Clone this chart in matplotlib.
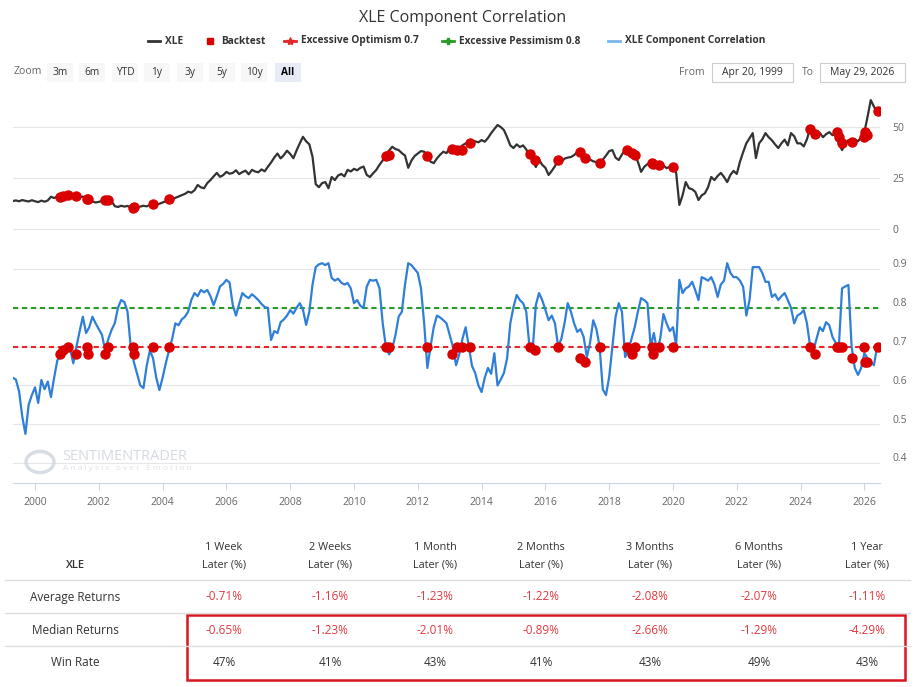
import numpy as np
import matplotlib
matplotlib.use("Agg")
import matplotlib.pyplot as plt
from matplotlib.lines import Line2D
from matplotlib.patches import Rectangle, Circle
from matplotlib.transforms import ScaledTranslation

plt.rcParams["font.family"] = ["Open Sans", "DejaVu Sans"]

W, H = 915, 687

# XLE price, one value every 0.1 year starting 1999.3
xle_price = [
    13.7, 14.0, 13.6, 14.2, 13.8, 13.5, 14.1,
    13.6, 13.2, 13.9, 13.4, 14.0, 15.8, 15.2, 15.9, 16.3, 15.8,
    16.7, 16.2, 16.8, 16.0, 15.5, 15.9, 14.7, 14.2, 13.5, 13.0,
    13.3, 13.8, 14.3, 14.1, 13.6, 11.2, 10.8, 11.4, 11.0, 11.3,
    10.5, 10.9, 10.6, 11.0, 11.4, 11.1, 11.8, 12.2, 11.9, 12.4,
    13.0, 13.6, 14.7, 14.4, 15.3, 15.9, 16.6, 17.2, 18.3, 17.8,
    19.0, 21.6, 20.4, 20.0, 22.5, 24.0, 25.8, 27.5, 25.6, 26.4,
    28.0, 27.1, 27.5, 28.8, 26.9, 27.9, 28.6, 26.8, 29.0, 28.2,
    27.8, 29.2, 28.3, 30.5, 32.6, 35.0, 37.0, 34.6, 36.2, 38.4,
    36.8, 34.7, 38.5, 42.0, 45.2, 43.0, 41.5, 35.4, 22.0, 20.5,
    22.5, 23.0, 20.0, 25.5, 24.0, 26.2, 27.0, 25.8, 29.0, 28.2,
    29.5, 28.8, 30.0, 30.6, 26.5, 25.5, 27.3, 29.0, 31.5, 33.6,
    36.3, 38.5, 40.3, 39.2, 38.7, 37.2, 36.0, 30.0, 33.5, 35.8,
    37.0, 38.2, 37.9, 35.8, 33.0, 32.3, 34.6, 36.4, 37.9, 37.2,
    39.7, 39.2, 38.7, 39.8, 41.0, 42.0, 41.5, 42.8, 43.0, 42.5,
    43.6, 42.8, 44.6, 47.0, 49.0, 51.0, 50.0, 48.5, 45.0, 41.0,
    39.7, 41.5, 40.2, 41.0, 39.0, 36.5, 33.8, 30.4, 34.0, 31.5,
    30.0, 26.5, 28.5, 30.8, 33.8, 32.9, 34.5, 35.0, 35.3, 36.2,
    37.7, 36.5, 34.8, 35.5, 34.0, 33.2, 32.8, 32.0, 34.0, 36.0,
    38.2, 38.7, 35.0, 33.8, 36.5, 38.7, 37.5, 36.8, 36.3, 33.0,
    28.0, 30.5, 31.8, 32.8, 32.0, 31.4, 30.5, 31.2, 29.8, 30.6,
    30.4, 27.5, 11.8, 16.5, 23.0, 20.0, 19.5, 18.2, 14.2, 16.5,
    17.5, 20.5, 25.5, 24.0, 26.0, 27.5, 25.5, 23.0, 26.5, 28.5,
    27.0, 33.0, 37.7, 42.0, 44.5, 47.0, 34.8, 42.0, 44.0, 47.0,
    45.0, 43.5, 41.5, 39.7, 42.0, 43.8, 41.0, 47.0, 45.5, 42.0,
    42.0, 40.5, 44.0, 49.5, 47.5, 46.0, 47.2, 45.0, 46.5, 47.5,
    46.0, 47.0, 42.0, 38.7, 41.5, 43.6, 42.5, 44.0, 43.0, 45.0,
    47.5, 55.0, 63.2, 60.0, 57.4,
]

# XLE component correlation, same dates
corr = [
    0.620, 0.615, 0.585, 0.520, 0.475, 0.550, 0.575,
    0.595, 0.555, 0.614, 0.590, 0.610, 0.570, 0.620, 0.665, 0.675, 0.690,
    0.700, 0.695, 0.657, 0.700, 0.740, 0.777, 0.735, 0.750, 0.777, 0.760,
    0.745, 0.730, 0.690, 0.720, 0.743, 0.760, 0.800, 0.820, 0.815, 0.790,
    0.700, 0.660, 0.630, 0.600, 0.593, 0.650, 0.690, 0.670, 0.620, 0.588,
    0.620, 0.657, 0.690, 0.720, 0.760, 0.755, 0.770, 0.777, 0.790, 0.820,
    0.838, 0.830, 0.846, 0.840, 0.846, 0.830, 0.807, 0.830, 0.855, 0.862,
    0.872, 0.865, 0.807, 0.780, 0.810, 0.838, 0.830, 0.825, 0.835, 0.828,
    0.820, 0.810, 0.802, 0.800, 0.717, 0.740, 0.735, 0.763, 0.770, 0.780,
    0.794, 0.785, 0.800, 0.812, 0.795, 0.756, 0.790, 0.860, 0.905, 0.912,
    0.915, 0.910, 0.915, 0.877, 0.870, 0.875, 0.865, 0.860, 0.864, 0.850,
    0.812, 0.820, 0.805, 0.800, 0.855, 0.872, 0.870, 0.872, 0.850, 0.760,
    0.700, 0.680, 0.695, 0.730, 0.777, 0.790, 0.860, 0.915, 0.910, 0.900,
    0.890, 0.850, 0.760, 0.645, 0.700, 0.750, 0.780, 0.775, 0.768, 0.760,
    0.730, 0.700, 0.652, 0.680, 0.720, 0.750, 0.700, 0.650, 0.632, 0.600,
    0.583, 0.620, 0.645, 0.630, 0.683, 0.600, 0.615, 0.632, 0.670, 0.760,
    0.802, 0.833, 0.820, 0.812, 0.790, 0.700, 0.690, 0.807, 0.838, 0.820,
    0.795, 0.768, 0.780, 0.760, 0.700, 0.720, 0.760, 0.812, 0.790, 0.760,
    0.738, 0.745, 0.725, 0.673, 0.710, 0.768, 0.745, 0.700, 0.590, 0.575,
    0.622, 0.700, 0.777, 0.812, 0.790, 0.673, 0.690, 0.720, 0.750, 0.790,
    0.825, 0.820, 0.812, 0.700, 0.735, 0.690, 0.720, 0.784, 0.760, 0.740,
    0.750, 0.704, 0.872, 0.838, 0.850, 0.855, 0.867, 0.845, 0.820, 0.879,
    0.875, 0.870, 0.879, 0.860, 0.828, 0.860, 0.870, 0.915, 0.890, 0.879,
    0.879, 0.870, 0.854, 0.780, 0.820, 0.905, 0.905, 0.905, 0.890, 0.867,
    0.867, 0.828, 0.835, 0.820, 0.830, 0.838, 0.820, 0.800, 0.760, 0.780,
    0.785, 0.794, 0.760, 0.700, 0.690, 0.720, 0.750, 0.740, 0.763, 0.755,
    0.725, 0.710, 0.700, 0.850, 0.855, 0.859, 0.700, 0.645, 0.627, 0.645,
    0.683, 0.670, 0.660, 0.652, 0.700,
]

years = 1999.3 + 0.1 * np.arange(len(xle_price))

# backtest signals
bt_dates = [2000.78, 2000.89, 2001.04, 2001.3, 2001.64, 2001.66, 2002.19, 2002.3,
            2003.08, 2003.1, 2003.69, 2004.21, 2011.0, 2011.1, 2012.28, 2013.06,
            2013.22, 2013.38, 2013.64, 2015.52, 2015.67, 2016.4, 2017.08, 2017.24,
            2017.71, 2018.55, 2018.7, 2018.81, 2019.33, 2019.38, 2019.56, 2020.01,
            2024.3, 2024.45, 2025.13, 2025.2, 2025.29, 2025.6, 2026.0, 2026.03,
            2026.07, 2026.42]
bt_corr = [0.68, 0.69, 0.70, 0.68, 0.70, 0.68, 0.68, 0.70, 0.70, 0.68, 0.70, 0.70,
           0.70, 0.70, 0.70, 0.68, 0.70, 0.70, 0.70, 0.70, 0.69, 0.70, 0.67, 0.66,
           0.70, 0.70, 0.68, 0.70, 0.70, 0.68, 0.70, 0.70, 0.70, 0.68, 0.70, 0.70,
           0.70, 0.67, 0.70, 0.66, 0.66, 0.70]
bt_price = [15.9, 16.3, 16.5, 16.0, 14.7, 14.5, 14.2, 14.3, 10.5, 10.6, 12.2, 14.7,
            35.8, 36.5, 35.8, 39.2, 38.8, 38.5, 42.0, 37.0, 34.0, 33.8, 37.7, 34.8,
            32.6, 38.7, 37.5, 36.3, 32.5, 32.0, 31.4, 30.4, 49.0, 46.5, 47.5, 45.0,
            42.0, 42.6, 45.0, 47.5, 46.0, 57.8]

optimism_level = 0.7
pessimism_level = 0.8

# table
horizons = ["1 Week", "2 Weeks", "1 Month", "2 Months", "3 Months", "6 Months", "1 Year"]
avg_returns = ["-0.71%", "-1.16%", "-1.23%", "-1.22%", "-2.08%", "-2.07%", "-1.11%"]
median_returns = ["-0.65%", "-1.23%", "-2.01%", "-0.89%", "-2.66%", "-1.29%", "-4.29%"]
win_rate = ["47%", "41%", "43%", "41%", "43%", "49%", "43%"]

zoom_buttons = ["3m", "6m", "YTD", "1y", "3y", "5y", "10y", "All"]

RED = "#d90000"
BLUE = "#2f7ed8"
GREEN = "#2a9a2a"
GRID = "#e6e6e6"
TXT = "#666666"


def fx(x):
    return x / W


def fy(y):
    return 1 - y / H


fig = plt.figure(figsize=(W / 100, H / 100), dpi=100)

# title and legend
fig.text(fx(463), fy(18), "XLE Component Correlation", ha="center", va="center",
         fontsize=11.5, color="#333333")

legend_items = [
    (148, "XLE", "#333333", "line"),
    (205, "Backtest", RED, "square"),
    (284, "Excessive Optimism 0.7", "#e5262b", "star"),
    (442, "Excessive Pessimism 0.8", GREEN, "plus"),
    (608, "XLE Component Correlation", "#7cb5ec", "line"),
]
for x0, label, col, kind in legend_items:
    if kind == "square":
        fig.add_artist(Line2D([fx(x0 + 5)], [fy(41)], marker="s", markersize=5,
                              color=col, linestyle="none"))
        tx = x0 + 16
    else:
        fig.add_artist(Line2D([fx(x0), fx(x0 + 12)], [fy(41), fy(41)], color=col, lw=2))
        if kind == "star":
            fig.add_artist(Line2D([fx(x0 + 6)], [fy(41)], marker="*", markersize=6,
                                  color=col, linestyle="none"))
        elif kind == "plus":
            fig.add_artist(Line2D([fx(x0 + 6)], [fy(41)], marker="P", markersize=5,
                                  color=col, linestyle="none"))
        tx = x0 + 17
    fig.text(fx(tx), fy(41), label, ha="left", va="center", fontsize=7.3,
             fontweight="bold", color="#333333")

# zoom toolbar
fig.text(fx(28), fy(72), "Zoom", ha="center", va="center", fontsize=7.5, color=TXT)
btn_x = [60, 92, 125, 157, 190, 222, 254, 288]
for bx, lab in zip(btn_x, zoom_buttons):
    active = lab == "All"
    fig.add_artist(Rectangle((fx(bx - 13), fy(82)), 26 / W, 19 / H,
                             facecolor="#e6ebf5" if active else "#f7f7f7",
                             edgecolor="none"))
    fig.text(fx(bx), fy(72.5), lab, ha="center", va="center", fontsize=7.3,
             color="#000000" if active else "#333333",
             fontweight="bold" if active else "normal")

fig.text(fx(692), fy(72.5), "From", ha="center", va="center", fontsize=7.5, color=TXT)
fig.add_artist(Rectangle((fx(712), fy(82)), 81 / W, 19 / H, facecolor="white",
                         edgecolor="#cccccc", lw=0.8))
fig.text(fx(752), fy(72.5), "Apr 20, 1999", ha="center", va="center", fontsize=7.5,
         color="#333333")
fig.text(fx(808), fy(72.5), "To", ha="center", va="center", fontsize=7.5, color=TXT)
fig.add_artist(Rectangle((fx(820), fy(82)), 85 / W, 19 / H, facecolor="white",
                         edgecolor="#cccccc", lw=0.8))
fig.text(fx(862), fy(72.5), "May 29, 2026", ha="center", va="center", fontsize=7.5,
         color="#333333")

# price panel
ax1 = fig.add_axes([fx(13), fy(233), 867 / W, 138 / H])
ax1.plot(years, xle_price, color="#333333", lw=1.6, zorder=2)
ax1.plot(bt_dates, bt_price, "o", color=RED, markersize=6.5, zorder=3)
ax1.set_ylim(-1.96, 65.7)
ax1.set_yticks([0, 25, 50])

# correlation panel
ax2 = fig.add_axes([fx(13), fy(483), 867 / W, 233 / H])
ax2.plot(years, corr, color=BLUE, lw=1.6, zorder=2)
ax2.axhline(pessimism_level, color=GREEN, lw=1.5, dashes=(2.5, 1.8), zorder=1.5)
ax2.axhline(optimism_level, color="#e5262b", lw=1.5, dashes=(2.5, 1.8), zorder=1.5)
ax2.plot(bt_dates, bt_corr, "o", color=RED, markersize=6.5, zorder=3)
ax2.set_ylim(0.3485, 0.949)
ax2.set_yticks([0.4, 0.5, 0.6, 0.7, 0.8, 0.9])
ax2.set_yticklabels(["0.4", "0.5", "0.6", "0.7", "0.8", "0.9"])

for ax in (ax1, ax2):
    ax.set_xlim(1999.31, 2026.49)
    ax.yaxis.tick_right()
    ax.tick_params(axis="y", length=0, pad=9, labelsize=7.5, labelcolor=TXT)
    ax.grid(axis="y", color=GRID, lw=0.8, zorder=0)
    ax.set_axisbelow(True)
    for side in ("top", "left", "right", "bottom"):
        ax.spines[side].set_visible(False)
    ax.set_facecolor("none")

ax1.set_xticks([])
ax2.set_xticks(range(2000, 2027, 2))
ax2.tick_params(axis="x", length=5, color="#ccd6eb", labelsize=7.5, labelcolor=TXT, pad=5)
ax2.spines["bottom"].set_visible(True)
ax2.spines["bottom"].set_color("#ccd6eb")
for lab in ax2.get_yticklabels():
    lab.set_transform(lab.get_transform() + ScaledTranslation(0, 4 / 72, fig.dpi_scale_trans))

# watermark
fig.add_artist(Circle((fx(40), fy(462)), 14 / W, facecolor="none", edgecolor="#d8dde3",
                      lw=2.5, transform=fig.transFigure))
fig.text(fx(62), fy(457), "SENTIMENTRADER", ha="left", va="center", fontsize=10.5,
         color="#d5dbe1")
fig.text(fx(63), fy(469), "A n a l y s i s   o v e r   E m o t i o n", ha="left",
         va="center", fontsize=6, color="#dde2e7")

# results table
col_x = [224, 330, 435, 541, 650, 759, 867]
fig.text(fx(75), fy(565), "XLE", ha="center", va="center", fontsize=8, color="#333333",
         fontweight="semibold")
for cx, h in zip(col_x, horizons):
    fig.text(fx(cx), fy(547), h, ha="center", va="center", fontsize=7.8, color="#333333")
    fig.text(fx(cx), fy(565), "Later (%)", ha="center", va="center", fontsize=7.8,
             color="#333333")

for ly in (580, 613, 646):
    fig.add_artist(Line2D([fx(5), fx(910)], [fy(ly), fy(ly)], color="#dddddd", lw=1))

rows = [("Average Returns", avg_returns, "#e0393e", 597),
        ("Median Returns", median_returns, "#e0393e", 630),
        ("Win Rate", win_rate, "#333333", 663)]
for label, vals, col, ry in rows:
    fig.text(fx(75), fy(ry), label, ha="center", va="center", fontsize=8.5,
             color="#333333")
    for cx, v in zip(col_x, vals):
        fig.text(fx(cx), fy(ry), v, ha="center", va="center", fontsize=8.5, color=col)

fig.add_artist(Rectangle((fx(187), fy(680)), 718 / W, 65 / H, facecolor="none",
                         edgecolor="#d9151e", lw=1.8))

fig.savefig("out.png", dpi=100, facecolor="white")
